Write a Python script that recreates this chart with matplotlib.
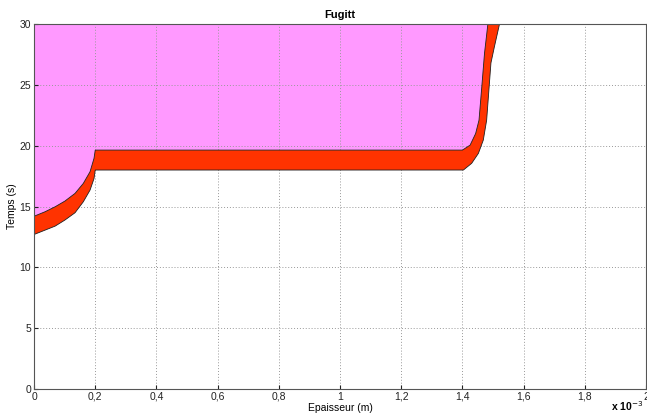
import numpy as np
import matplotlib.pyplot as plt
from matplotlib.ticker import FuncFormatter

# courbes (x en 1e-3 m, t en s)
upper_x = [0, 0.036, 0.069, 0.101, 0.134, 0.161, 0.183, 0.196, 0.2,
           1.4, 1.425, 1.443, 1.454, 1.463, 1.472, 1.483]
upper_t = [14.2, 14.57, 14.98, 15.45, 16.08, 16.9, 17.86, 18.96, 19.64,
           19.64, 20.05, 21.0, 22.1, 24.8, 27.6, 30.0]
lower_x = [0, 0.036, 0.069, 0.101, 0.134, 0.161, 0.183, 0.196, 0.2,
           1.403, 1.43, 1.452, 1.468, 1.479, 1.487, 1.493, 1.504, 1.521]
lower_t = [12.7, 13.06, 13.39, 13.89, 14.49, 15.39, 16.35, 17.3, 18.0,
           18.0, 18.55, 19.37, 20.46, 22.1, 24.8, 26.8, 28.1, 30.0]

xticks = [0, 0.2, 0.4, 0.6, 0.8, 1, 1.2, 1.4, 1.6, 1.8, 2]
yticks = [0, 5, 10, 15, 20, 25, 30]

plt.rcParams['font.family'] = ['Liberation Sans', 'DejaVu Sans']

fig = plt.figure(figsize=(6.47, 4.19), dpi=100)
ax = fig.add_axes([0.0526, 0.0716, 0.946, 0.871])

# zone rose au-dessus de la courbe haute
px = upper_x + [0]
pt = upper_t + [30]
ax.fill(px, pt, color='#ff99ff', lw=0, zorder=0.2)

# bande rouge entre les deux courbes
rx = upper_x + lower_x[::-1]
rt = upper_t + lower_t[::-1]
ax.fill(rx, rt, facecolor='#ff3300', edgecolor='#202020', lw=0.6, zorder=1)

ax.set_xlim(0, 2)
ax.set_ylim(0, 30)
ax.set_xticks(xticks)
ax.set_yticks(yticks)
ax.xaxis.set_major_formatter(FuncFormatter(lambda v, p: ('%g' % v).replace('.', ',')))
ax.tick_params(direction='in', labelsize=7.5, length=3, pad=2, colors='#222222')
ax.set_axisbelow(True)
ax.grid(True, linestyle=(0, (1, 2)), color='#999999', linewidth=0.7)
for s in ax.spines.values():
    s.set_color('#555555')
    s.set_linewidth(0.8)

ax.set_title('Fugitt', fontsize=8, fontweight='bold', pad=4)
ax.set_xlabel('Epaisseur (m)', fontsize=7.5, labelpad=1)
ax.set_ylabel('Temps (s)', fontsize=7.5, labelpad=2)
fig.text(0.945, 0.018, r'x 10$^{-3}$', fontsize=7.5, fontweight='bold')

fig.savefig('out.png', dpi=100)
